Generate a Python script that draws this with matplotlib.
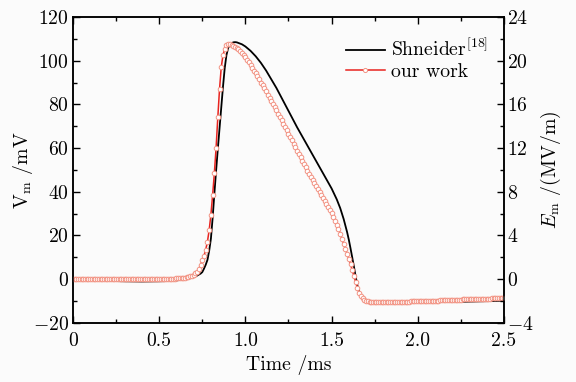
import numpy as np
import matplotlib
matplotlib.use("Agg")
import matplotlib.pyplot as plt
from matplotlib.ticker import MultipleLocator

plt.rcParams['font.family'] = ['cmr10', 'DejaVu Serif']
plt.rcParams['mathtext.fontset'] = 'cm'
plt.rcParams['axes.formatter.use_mathtext'] = True
plt.rcParams['axes.unicode_minus'] = True

# Shneider [18] reference curve (time in ms, Vm in mV)
t_shneider = [0, 0.1, 0.2, 0.3, 0.4, 0.5, 0.55, 0.6, 0.65, 0.68, 0.70, 0.72, 0.74, 0.75,
              0.76, 0.77, 0.78, 0.79, 0.80, 0.81, 0.82, 0.83, 0.84, 0.85, 0.86, 0.87,
              0.88, 0.89, 0.90, 0.91, 0.92, 0.93, 0.94, 0.95, 0.96, 0.98, 1.00, 1.03,
              1.06, 1.09, 1.12, 1.15, 1.18, 1.21, 1.24, 1.27, 1.30, 1.35, 1.40, 1.45,
              1.50, 1.53, 1.55, 1.57, 1.59, 1.60, 1.61, 1.62, 1.63, 1.64, 1.65, 1.66,
              1.67, 1.68, 1.70, 1.75, 1.80, 2.00, 2.20, 2.40, 2.50]
v_shneider = [-0.3, -0.5, -0.8, -1.0, -1.1, -1.0, -0.9, -0.6, -0.1, 0.4, 0.9, 1.6, 2.5, 3.2,
              4.8, 6.6, 8.8, 13.0, 18.5, 28.0, 39.0, 49.5, 59.5, 69.0, 78.5, 88.0,
              96.5, 102.5, 105.8, 107.3, 108.0, 108.4, 108.5, 108.4, 108.1, 107.5, 106.5, 104.5,
              102.0, 99.0, 95.5, 91.5, 87.5, 83.0, 78.5, 74.0, 69.5, 62.5, 55.5, 48.5,
              41.5, 36.5, 32.5, 27.5, 21.5, 18.0, 14.0, 9.8, 5.5, 1.0, -3.0, -6.0,
              -8.0, -9.2, -10.0, -10.3, -10.5, -10.6, -10.5, -10.1, -9.9]

# our work: sampled every 0.01 ms from 0 to 2.5 ms
t_ours = np.round(np.arange(0, 251) * 0.01, 2)
v_ours = [
    0.0, 0.0, 0.0, 0.0, 0.0, 0.0, 0.0, 0.0, 0.0, 0.0,
    0.0, 0.0, 0.0, 0.0, 0.0, 0.0, 0.0, 0.0, 0.0, 0.0,
    0.0, 0.0, 0.0, 0.0, 0.0, 0.0, 0.0, 0.0, 0.0, 0.0,
    0.0, 0.0, 0.0, 0.0, 0.0, 0.0, 0.0, 0.0, 0.0, 0.0,
    0.0, 0.0, 0.0, 0.0, 0.0, 0.1, 0.1, 0.1, 0.1, 0.1,
    0.1, 0.1, 0.1, 0.1, 0.1, 0.1, 0.2, 0.2, 0.2, 0.2,
    0.3, 0.4, 0.5, 0.5, 0.6, 0.7, 0.9, 1.0, 1.2, 1.6,
    2.1, 2.6, 3.4, 4.6, 6.5, 8.7, 10.7, 13.5, 17.2, 22.5,
    29.5, 38.5, 48.5, 60.0, 74.0, 87.0, 97.0, 102.5, 105.3, 107.0,
    107.6, 107.7, 107.4, 106.9, 106.4, 105.9, 105.2, 104.3, 103.4, 102.4,
    101.5, 100.5, 99.3, 98.0, 96.8, 95.5, 94.2, 92.8, 91.4, 90.0,
    88.7, 87.3, 85.9, 84.5, 83.0, 81.6, 80.1, 78.6, 77.2, 75.7,
    74.2, 72.7, 71.2, 69.7, 68.2, 66.6, 65.1, 63.5, 61.9, 60.4,
    58.8, 57.3, 55.7, 54.2, 52.6, 51.2, 49.7, 48.3, 46.9, 45.5,
    44.1, 42.7, 41.3, 40.0, 38.6, 37.2, 35.8, 34.4, 33.0, 31.6,
    30.1, 28.5, 26.8, 25.0, 23.0, 20.8, 18.5, 16.2, 13.9, 11.6,
    9.3, 6.8, 4.1, 1.3, -1.5, -4.2, -6.3, -7.7, -8.7, -9.4,
    -9.8, -10.1, -10.3, -10.4, -10.5, -10.5, -10.6, -10.6, -10.6, -10.6,
    -10.6, -10.6, -10.5, -10.5, -10.5, -10.5, -10.5, -10.5, -10.4, -10.4,
    -10.4, -10.4, -10.4, -10.3, -10.3, -10.3, -10.2, -10.2, -10.2, -10.2,
    -10.1, -10.1, -10.1, -10.0, -10.0, -10.0, -9.9, -9.9, -9.9, -9.9,
    -9.8, -9.8, -9.8, -9.7, -9.7, -9.7, -9.6, -9.6, -9.6, -9.6,
    -9.5, -9.5, -9.5, -9.4, -9.4, -9.4, -9.3, -9.3, -9.3, -9.3,
    -9.2, -9.2, -9.2, -9.1, -9.1, -9.1, -9.0, -9.0, -9.0, -9.0,
    -8.9, -8.9, -8.9, -8.8, -8.8, -8.8, -8.7, -8.7, -8.7, -8.7,
    -8.6,
]

labels = [r'Shneider$^{[18]}$', 'our work']
xlabel = 'Time /ms'
ylabel_left = r'$\mathrm{V}_{\mathrm{m}}$ /mV'
ylabel_right = r'$E_{\mathrm{m}}$ /(MV/m)'

fs = 14.2
fig = plt.figure(figsize=(5.76, 3.82), dpi=100, facecolor='#fbfbfb')
ax = fig.add_axes([0.1267, 0.155, 0.7483, 0.8005])
ax.set_facecolor('#fbfbfb')

ax.plot(t_shneider, v_shneider, color='black', lw=1.3, label=labels[0], zorder=2)
ax.plot(t_ours, v_ours, color='#e8231f', lw=1.1, marker='o', ms=3.3,
        mfc='white', mec='#f29282', mew=0.7, label=labels[1], zorder=3)

ax.set_xlim(0, 2.5)
ax.set_ylim(-20, 120)
ax.xaxis.set_minor_locator(MultipleLocator(0.25))
ax.yaxis.set_major_locator(MultipleLocator(20))
ax.yaxis.set_minor_locator(MultipleLocator(10))
ax.set_xticks([0, 0.5, 1.0, 1.5, 2.0, 2.5])
ax.set_xticklabels(['0', '0.5', '1.0', '1.5', '2.0', '2.5'])
ax.tick_params(which='both', direction='in', top=True, right=False, labelsize=fs, width=1.0)
ax.tick_params(which='major', length=5)
ax.tick_params(which='minor', length=3)
ax.tick_params(axis='x', pad=7)
ax.tick_params(axis='y', pad=3)
for s in ax.spines.values():
    s.set_linewidth(1.1)

ax.set_xlabel(xlabel, fontsize=fs, labelpad=3)
ax.set_ylabel(ylabel_left, fontsize=fs)
ax.yaxis.set_label_coords(-0.088, 0.5)

ax2 = ax.twinx()
ax2.set_ylim(-4, 24)
ax2.yaxis.set_major_locator(MultipleLocator(4))
ax2.yaxis.set_minor_locator(MultipleLocator(2))
ax2.tick_params(which='both', direction='in', labelsize=fs, width=1.0, pad=2)
ax2.tick_params(which='major', length=5)
ax2.tick_params(which='minor', length=3)
ax2.set_ylabel(ylabel_right, fontsize=fs)
ax2.yaxis.set_label_coords(1.08, 0.5)
for s in ax2.spines.values():
    s.set_linewidth(1.1)

leg = ax.legend(loc='upper right', bbox_to_anchor=(0.995, 0.975), frameon=False,
                fontsize=fs, handlelength=2.0, handletextpad=0.3, labelspacing=0.12,
                borderpad=0.2, markerscale=0.9)

fig.savefig('out.png', dpi=100, facecolor=fig.get_facecolor())
